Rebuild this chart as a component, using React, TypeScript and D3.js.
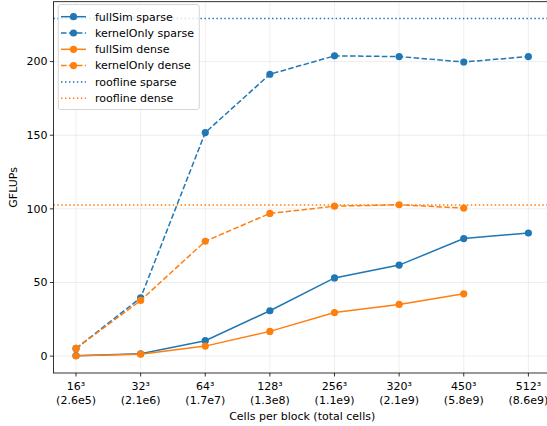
import React from "react";
import * as d3 from "d3";

const categories = ["16³", "32³", "64³", "128³", "256³", "320³", "450³", "512³"];
const totals = ["(2.6e5)", "(2.1e6)", "(1.7e7)", "(1.3e8)", "(1.1e9)", "(2.1e9)", "(5.8e9)", "(8.6e9)"];
const fullSimSparse = [0.3, 1.6, 10.5, 30.8, 53.1, 61.8, 79.8, 83.6];
const kernelOnlySparse = [5.2, 39.6, 151.8, 191.4, 203.9, 203.4, 199.7, 203.4];
const fullSimDense = [0.2, 1.3, 6.8, 16.8, 29.6, 35.1, 42.3];
const kernelOnlyDense = [5.2, 37.8, 78.0, 96.9, 101.8, 102.8, 100.5];
const rooflineSparse = 229.2;
const rooflineDense = 102.6;
const yTicks = [0, 50, 100, 150, 200];

const BLUE = "#1f77b4";
const ORANGE = "#ff7f0e";

export default function App() {
  const W = 547, H = 426;
  const left = 53.4, right = 551, top = 1.7, bottom = 373;
  const x = d3.scaleLinear().domain([-0.35, 7.35]).range([left, right]);
  const y = d3.scaleLinear().domain([-11.46, 240.66]).range([bottom, top]);
  const line = d3.line<number>().x((_, i) => x(i)).y((d) => y(d));

  const series = [
    { name: "fullSim sparse", data: fullSimSparse, color: BLUE, dash: "" },
    { name: "kernelOnly sparse", data: kernelOnlySparse, color: BLUE, dash: "5.55,2.4" },
    { name: "fullSim dense", data: fullSimDense, color: ORANGE, dash: "" },
    { name: "kernelOnly dense", data: kernelOnlyDense, color: ORANGE, dash: "5.55,2.4" },
  ];
  const roofs = [
    { name: "roofline sparse", v: rooflineSparse, color: BLUE },
    { name: "roofline dense", v: rooflineDense, color: ORANGE },
  ];
  const font = "DejaVu Sans, sans-serif";
  const fs = 11;
  const legendRows = [
    ...series.map((s) => ({ name: s.name, color: s.color, dash: s.dash, marker: true })),
    ...roofs.map((r) => ({ name: r.name, color: r.color, dash: "1.5,2.475", marker: false })),
  ];

  return (
    <svg width={W} height={H} style={{ position: "absolute", left: 0, top: 0, background: "#fff" }} fontFamily={font}>
      <defs>
        <clipPath id="plot">
          <rect x={left} y={top} width={right - left} height={bottom - top} />
        </clipPath>
      </defs>
      <rect width={W} height={H} fill="#fff" />
      {categories.map((_, i) => (
        <line key={"gx" + i} x1={x(i)} x2={x(i)} y1={top} y2={bottom} stroke="#b0b0b0" strokeOpacity={0.25} strokeWidth={0.8} />
      ))}
      {yTicks.map((t) => (
        <line key={"gy" + t} x1={left} x2={right} y1={y(t)} y2={y(t)} stroke="#b0b0b0" strokeOpacity={0.25} strokeWidth={0.8} />
      ))}
      <g clipPath="url(#plot)">
        {series.map((s) => (
          <g key={s.name}>
            <path d={line(s.data) || ""} fill="none" stroke={s.color} strokeWidth={1.5} strokeDasharray={s.dash || undefined} />
            {s.data.map((d, i) => (
              <circle key={i} cx={x(i)} cy={y(d)} r={3.6} fill={s.color} />
            ))}
          </g>
        ))}
        {roofs.map((r) => (
          <line key={r.name} x1={left} x2={right} y1={y(r.v)} y2={y(r.v)} stroke={r.color} strokeWidth={1.5} strokeDasharray="1.5,2.475" />
        ))}
      </g>
      <rect x={left} y={top} width={right - left} height={bottom - top} fill="none" stroke="#000" strokeWidth={0.8} />
      {categories.map((c, i) => (
        <g key={"xt" + i} transform={`translate(${x(i)},${bottom})`}>
          <line y1={0} y2={3.5} stroke="#000" strokeWidth={0.8} />
          <text y={17} textAnchor="middle" fontSize={fs} fill="#000">{c}</text>
          <text y={30.5} textAnchor="middle" fontSize={fs} fill="#000">{totals[i]}</text>
        </g>
      ))}
      {yTicks.map((t) => (
        <g key={"yt" + t} transform={`translate(${left},${y(t)})`}>
          <line x1={0} x2={-3.5} stroke="#000" strokeWidth={0.8} />
          <text x={-6} dy="0.35em" textAnchor="end" fontSize={fs} fill="#000">{t}</text>
        </g>
      ))}
      <text x={(left + right) / 2} y={420} textAnchor="middle" fontSize={fs} fill="#000">Cells per block (total cells)</text>
      <text transform={`translate(17,${(top + bottom) / 2}) rotate(-90)`} textAnchor="middle" fontSize={fs} fill="#000">GFLUPs</text>
      <rect x={58.3} y={4.5} width={141} height={105} rx={2.5} fill="#fff" fillOpacity={0.8} stroke="#cccccc" strokeWidth={0.8} />
      {legendRows.map((r, i) => {
        const ly = 16.7 + i * 16.3;
        return (
          <g key={r.name}>
            <line x1={61} x2={86} y1={ly} y2={ly} stroke={r.color} strokeWidth={1.5} strokeDasharray={r.dash || undefined} />
            {r.marker && <circle cx={73.5} cy={ly} r={3.6} fill={r.color} />}
            <text x={95} y={ly} dy="0.35em" fontSize={fs} fill="#000">{r.name}</text>
          </g>
        );
      })}
    </svg>
  );
}
